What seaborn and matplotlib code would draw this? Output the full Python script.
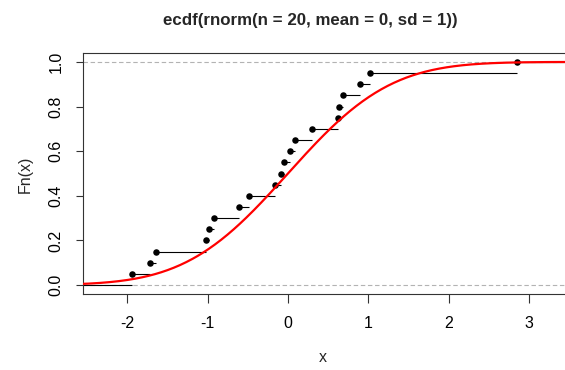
import math
import numpy as np
import pandas as pd
import matplotlib
matplotlib.use("Agg")
import matplotlib.pyplot as plt
import seaborn as sns

# sorted sample values (20 draws of rnorm)
sample_x = [-1.94, -1.715, -1.644, -1.02, -0.98, -0.926, -0.61, -0.49,
            -0.158, -0.083, -0.05, 0.02, 0.087, 0.294, 0.625, 0.635,
            0.685, 0.897, 1.02, 2.85]
x_ticks = [-2, -1, 0, 1, 2, 3]
y_ticks = [0.0, 0.2, 0.4, 0.6, 0.8, 1.0]
y_tick_labels = ["0.0", "0.2", "0.4", "0.6", "0.8", "1.0"]
title = "ecdf(rnorm(n = 20, mean = 0, sd = 1))"

x_lo, x_hi = -2.55, 3.46

n = len(sample_x)
ecdf_df = pd.DataFrame({"x": sample_x, "Fn": [(i + 1) / n for i in range(n)]})

# theoretical normal cdf, pnorm
grid = np.linspace(x_lo - 0.1, x_hi + 0.1, 400)
curve_df = pd.DataFrame({"x": grid, "p": [0.5 * (1 + math.erf(v / math.sqrt(2))) for v in grid]})

sns.set_theme(style="white")
plt.rcParams["font.family"] = ["Liberation Sans", "DejaVu Sans"]

fig = plt.figure(figsize=(5.65, 3.70), dpi=100)
ax = fig.add_axes([83 / 565, 76 / 370, (566 - 83) / 565, (294 - 53) / 370])

# step segments: level 0 before first point, i/n between points, 1 after last
starts = [x_lo - 1] + sample_x
ends = sample_x + [x_hi + 1]
levels = [0.0] + list(ecdf_df["Fn"])
ax.hlines(levels, starts, ends, color="black", lw=0.8, zorder=2)
sns.scatterplot(data=ecdf_df, x="x", y="Fn", ax=ax, color="black", s=22,
                edgecolor="black", linewidth=0, zorder=3)

for h in (0, 1):
    ax.axhline(h, color="#b3b3b3", lw=0.8, ls=(0, (4, 2.4)), zorder=1)

sns.lineplot(data=curve_df, x="x", y="p", ax=ax, color="red", lw=1.6, zorder=4)

ax.set_xlim(x_lo, x_hi)
ax.set_ylim(-0.04, 1.04)
ax.set_xticks(x_ticks)
ax.set_xticklabels([str(t) for t in x_ticks])
ax.set_yticks(y_ticks)
ax.set_yticklabels(y_tick_labels, rotation=90, va="center")
ax.tick_params(axis="x", length=6.5, width=0.8, pad=9, labelsize=11.5,
               colors="#333333", labelcolor="black", direction="out", bottom=True)
ax.tick_params(axis="y", length=4.7, width=0.8, pad=9.5, labelsize=11.5,
               colors="#333333", labelcolor="black", direction="out", left=True)
for sp in ax.spines.values():
    sp.set_visible(True)
    sp.set_color("#333333")
    sp.set_linewidth(0.8)

ax.set_xlabel("")
ax.set_ylabel("")
fig.text(323 / 565, 1 - 358 / 370, "x", ha="center", va="center", fontsize=11.5)
fig.text(25 / 565, 1 - 174 / 370, "Fn(x)", ha="center", va="center",
         rotation=90, fontsize=11.5)
fig.text(310 / 565, 1 - 20 / 370, title, ha="center", va="center",
         fontsize=12.2, fontweight="bold")

fig.savefig("out.png", dpi=100)
